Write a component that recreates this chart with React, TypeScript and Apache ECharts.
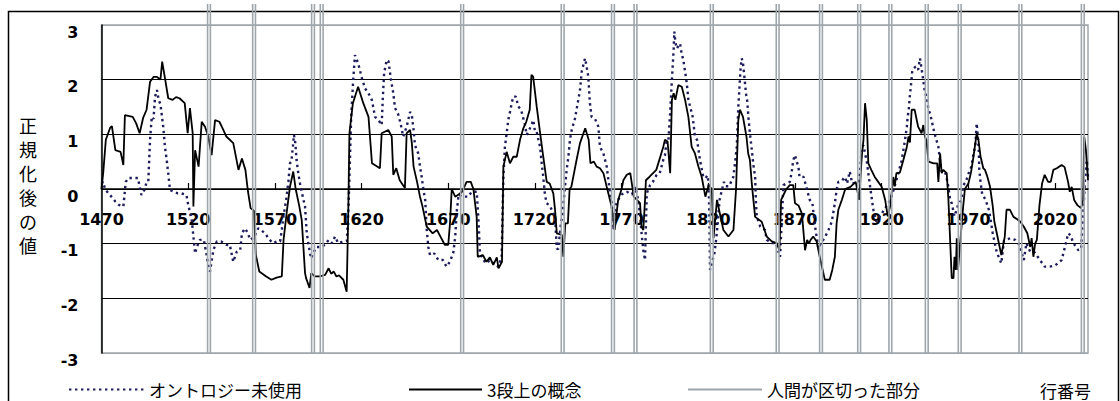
import React, { useEffect, useRef } from "react";
import * as echarts from "echarts";

// ---- axes ----
const X_MIN = 1470;
const X_MAX = 2039;
const X_STEP = 50;
const Y_MIN = -3;
const Y_MAX = 3;
const Y_STEP = 1;

// ---- texts ----
const SERIES_NAMES = ["オントロジー未使用", "3段上の概念", "人間が区切った部分"];
const X_AXIS_TITLE = "行番号";
const Y_AXIS_TITLE = "正規化後の値";

// ---- rows where a human placed a boundary ----
const separatorRows = [
  1532, 1558, 1592, 1597, 1678, 1736, 1765, 1778, 1822, 1860, 1885, 1907, 1925, 1946, 1965, 2000, 2036,
];

// ---- dotted series: オントロジー未使用 [row, value] ----
const ontologyUnused: [number, number][] = [
  [1470, 0.1], [1471, 0.13], [1472, 0.0], [1474, -0.08], [1476, -0.15], [1478, -0.23], [1480, -0.29],
  [1482.6, -0.32], [1484, 0.13], [1485.5, 0.2], [1488, 0.2], [1491, 0.2], [1493, -0.11], [1495, 0.0],
  [1496, 0.13], [1497, 0.14], [1498, 0.9], [1499, 1.32], [1500, 1.28], [1500.9, 1.69], [1502, 1.81],
  [1503, 1.63], [1504, 1.55], [1505.6, 1.14], [1506.6, 0.77], [1507.6, 0.53], [1508.5, 0.29], [1509.5, -0.02],
  [1512, -0.05], [1514, -0.08], [1516, -0.08], [1519, -0.11], [1520, -0.29], [1522, -0.54], [1523, -0.87],
  [1524, -1.18], [1525, -1.06], [1526.8, -0.93], [1529, -0.93], [1530.5, -1.18], [1531.6, -1.42],
  [1532.6, -1.51], [1533.5, -1.33], [1534.5, -1.12], [1536.5, -0.96], [1539, -0.96], [1542, -1.02],
  [1544, -1.02], [1546, -1.33], [1548, -1.15], [1550, -1.12], [1551, -0.81], [1552.8, -0.72], [1554.5, -0.81],
  [1555.7, -0.93], [1558, -0.88], [1560.4, -0.72], [1562, -0.75], [1564.3, -0.81], [1567, -0.93], [1569, -0.99],
  [1571, -0.96], [1573, -0.96], [1574, -0.75], [1574.9, -0.51], [1576.5, -0.2], [1577.8, 0.13], [1578.7, 0.47],
  [1579.5, 0.5], [1580.6, 0.84], [1581, 0.99], [1581.8, 0.84], [1582.5, 0.53], [1583.5, 0.29], [1584.5, 0.1],
  [1585.5, -0.05], [1586.5, -0.2], [1587.4, -0.32], [1588.4, -0.81], [1590.3, -1.18], [1591, -1.27],
  [1592, -1.18], [1594, -1.06], [1596.5, -1.06], [1599, -1.02], [1601, -0.93], [1603, -0.99], [1604.7, -0.87],
  [1606.5, -0.99], [1609.5, -0.96], [1611.5, -0.95], [1612.5, -0.3], [1613, 0.22], [1614, 1.32], [1615.2, 2.0],
  [1616.2, 2.45], [1617, 2.38], [1618, 2.3], [1619, 2.18], [1620, 2.05], [1622, 1.84], [1624, 1.75],
  [1625.9, 1.63], [1627.8, 1.32], [1630, 1.25], [1631.6, 1.17], [1632.2, 1.63], [1633, 2.12], [1634.5, 2.36],
  [1635.5, 2.34], [1637, 1.99], [1638.3, 1.75], [1639.3, 1.48], [1641, 1.38], [1642.5, 1.2], [1644, 0.96],
  [1646, 1.14], [1648, 1.41], [1649, 1.35], [1650, 1.08], [1650.8, 0.8], [1652.7, 0.65], [1653.7, 0.41],
  [1654.7, 0.22], [1655.6, 0.0], [1656.7, -0.2], [1657.6, -0.75], [1658.5, -1.06], [1659.5, -1.21],
  [1662, -1.18], [1664.3, -1.3], [1667, -1.3], [1669, -1.42], [1671, -1.33], [1673, -1.15], [1674, -0.87],
  [1675, -0.38], [1676, -0.1], [1678, -0.14], [1681.6, -0.14], [1683.5, -0.05], [1686.4, -0.05], [1687.5, -0.6],
  [1688.3, -1.18], [1691, -1.33], [1692, -1.36], [1694, -1.3], [1697, -1.39], [1699, -1.42], [1700.8, -1.24],
  [1701.8, 0.22], [1702.7, 0.77], [1703.7, 1.02], [1704.6, 1.26], [1705.6, 1.41], [1706.6, 1.57],
  [1707.5, 1.69], [1709, 1.69], [1710.4, 1.51], [1712, 1.45], [1714.3, 1.17], [1715.2, 0.99], [1717, 1.1],
  [1719.1, 1.26], [1720, 1.05], [1721, 1.05], [1722, 0.9], [1723, 0.77], [1723.9, 0.47], [1724.8, 0.22],
  [1725.7, -0.08], [1726.7, -0.26], [1728.5, -0.3], [1731.6, -0.51], [1732.6, -1.09], [1733.5, -1.1],
  [1735, -0.63], [1736, -0.45], [1737.3, 0.04], [1738.3, 0.35], [1739.3, 0.59], [1740.2, 0.9], [1741.2, 1.08],
  [1743.1, 1.29], [1744, 1.45], [1745, 1.63], [1746, 1.81], [1747, 2.15], [1748.9, 2.39], [1749.8, 2.24],
  [1750.8, 2.05], [1751.7, 1.57], [1752.7, 1.32], [1754.7, 1.28], [1756.6, 1.14], [1757.5, 0.77],
  [1759.5, 0.65], [1761.4, 0.41], [1762.4, 0.16], [1763.3, -0.05], [1764.3, -0.26], [1765.2, -0.75],
  [1766.5, -0.3], [1768, -0.2], [1770, -0.1], [1773, -0.05], [1776, -0.1], [1777.7, 0.04], [1779, -0.1],
  [1780.6, -0.45], [1781.5, -0.81], [1782.5, -1.12], [1783.5, -1.3], [1784.5, -0.08], [1786.4, 0.07],
  [1788, 0.13], [1790.2, 0.26], [1792, 0.29], [1794, 0.53], [1795, 0.62], [1796, 0.9], [1797, 0.9],
  [1798, 1.4], [1799, 1.99], [1800, 2.54], [1800.4, 2.88], [1801, 2.69], [1801.8, 2.57], [1803.7, 2.66],
  [1804.6, 2.48], [1805.6, 2.36], [1806.6, 2.15], [1807.6, 1.93], [1808.5, 1.63], [1809.5, 1.51], [1811, 1.32],
  [1812.3, 0.96], [1813.5, 0.9], [1815.2, 0.53], [1816, 0.4], [1817.1, 0.22], [1818.5, 0.2], [1819.5, 0.25],
  [1820.2, 0.1], [1820.6, -0.5], [1821, -1.48], [1822, -1.36], [1823.5, -1.18], [1824.5, -0.93],
  [1825.5, -0.6], [1826.5, -0.2], [1828, 0.0], [1829, 0.13], [1830, 0.05], [1832, 0.05], [1834.4, 0.22],
  [1835.4, 0.47], [1836.4, 0.77], [1837.3, 1.51], [1838, 1.87], [1838.7, 2.24], [1839.3, 2.39], [1840, 2.3],
  [1841, 1.99], [1841.7, 1.75], [1842.5, 1.6], [1843.1, 1.32], [1844, 1.02], [1845, 0.74], [1846, 0.44],
  [1847, 0.22], [1847.5, -0.26], [1848, -0.51], [1850, -0.69], [1852.7, -0.75], [1853.7, -0.93],
  [1856.6, -0.99], [1859, -0.99], [1861.4, -1.24], [1862.5, -0.5], [1863.3, 0.07], [1865, 0.1], [1867, 0.13],
  [1868, 0.29], [1869, 0.53], [1870, 0.62], [1871, 0.5], [1872, 0.4], [1872.6, 0.22], [1875, 0.22],
  [1876, 0.1], [1877.5, -0.08], [1878.5, -0.2], [1880, -0.25], [1881.6, -0.69], [1883.5, -1.09],
  [1885, -0.99], [1887, -0.9], [1889.3, -0.75], [1891.2, -0.6], [1893, -0.26], [1894, -0.02], [1895, 0.13],
  [1897, 0.15], [1898.8, 0.22], [1900, 0.1], [1901.6, 0.32], [1903, 0.1], [1906.6, 0.13], [1907.5, 0.3],
  [1908.5, 0.77], [1909.5, 0.8], [1910.4, 0.65], [1911.4, 0.5], [1912.3, 0.29], [1913.5, 0.0],
  [1915.2, -0.38], [1917, -0.6], [1919, -0.5], [1921, -0.4], [1923, -0.3], [1925, -0.2], [1927, 0.0],
  [1929.6, 0.29], [1930.5, 0.4], [1931.6, 0.53], [1932.5, 0.71], [1933.5, 0.9], [1934.5, 1.14], [1935, 1.32],
  [1935.6, 1.45], [1936.2, 1.69], [1936.8, 1.87], [1937.2, 2.0], [1937.7, 2.18], [1939.6, 2.24], [1941, 2.18],
  [1942.1, 2.39], [1944, 1.99], [1945, 1.75], [1946, 1.69], [1947, 1.45], [1947.9, 1.38], [1949, 1.23],
  [1949.8, 1.11], [1951, 0.96], [1952.7, 0.77], [1953.5, 0.55], [1954.6, 0.32], [1956.5, 0.32], [1958, 0.13],
  [1959.5, -0.2], [1960.4, -0.26], [1962, -0.5], [1964, -0.3], [1966, -0.2], [1967.1, 0.07], [1968.5, 0.13],
  [1970.2, 0.29], [1971.7, 0.41], [1973, 0.65], [1974, 0.8], [1974.8, 1.2], [1975.5, 0.95], [1976, 0.71],
  [1976.3, 0.35], [1977, 0.13], [1978, -0.1], [1980, -0.2], [1982, -0.4], [1984, -0.8], [1986.3, -1.15],
  [1989, -1.36], [1990.5, -0.95], [1994.1, -0.9], [1997, -0.93], [1999, -1.0], [2002, -1.3], [2003.5, -0.99],
  [2005.7, -1.15], [2008, -1.15], [2010, -1.24], [2012, -1.33], [2014, -1.42], [2017, -1.42], [2020, -1.4],
  [2023.8, -1.3], [2025.7, -1.06], [2027.6, -0.81], [2029, -0.85], [2030.5, -0.99], [2032, -1.05],
  [2033.4, -1.12], [2035, -1.1], [2036.5, -0.3], [2037.5, 0.3], [2038.3, 0.53], [2039, 0.22],
];

// ---- solid series: 3段上の概念 [row, value] ----
const threeLevelConcept: [number, number][] = [
  [1470, 0.0], [1471, 0.3], [1472.5, 0.9], [1475, 1.12], [1476, 1.15], [1478, 0.71], [1481, 0.68],
  [1482.6, 0.44], [1483.5, 1.35], [1488, 1.32], [1490, 1.2], [1492, 1.02], [1494, 1.3], [1496, 1.45],
  [1498, 1.96], [1500, 2.05], [1502, 2.05], [1504, 2.0], [1505, 2.33], [1506.6, 2.03], [1508.5, 1.66],
  [1511, 1.63], [1513, 1.68], [1515, 1.66], [1518, 1.57], [1519.7, 1.02], [1521, 1.48], [1522.6, 1.02],
  [1523, -0.32], [1524, 0.71], [1526, 0.41], [1527.8, 1.23], [1529.7, 1.14], [1531.6, 0.96], [1533.5, 0.62],
  [1535.5, 1.26], [1538, 1.23], [1540, 1.1], [1542, 0.96], [1546, 0.84], [1549, 0.35], [1551, 0.56],
  [1553, 0.35], [1554.5, -0.05], [1556, -0.35], [1558, -0.4], [1559, -1.2], [1561, -1.51], [1565, -1.6],
  [1568, -1.66], [1571, -1.62], [1574, -1.6], [1575, -0.93], [1577, -0.38], [1578.7, 0.04], [1580.6, 0.32],
  [1582, 0.0], [1584, -0.3], [1585.5, -0.57], [1587.4, -1.54], [1588, -1.63], [1590, -1.81], [1591, -1.54],
  [1593, -1.6], [1596, -1.6], [1599, -1.57], [1601, -1.45], [1602.5, -1.55], [1604, -1.51], [1605.5, -1.6],
  [1607, -1.58], [1609.5, -1.66], [1611.4, -1.88], [1612.3, -0.5], [1613, 1.02], [1615, 1.57], [1618, 1.87],
  [1621, 1.57], [1624, 1.32], [1626, 0.47], [1630.6, 0.38], [1631.6, 1.02], [1635.4, 1.08], [1637.4, 0.96],
  [1638.3, 0.26], [1640, 0.38], [1642, 0.16], [1645, 0.02], [1646, 1.02], [1648, 1.08], [1649, 0.84],
  [1650, 0.41], [1652, 0.13], [1653.7, -0.14], [1655, -0.3], [1657.6, -0.69], [1661, -0.81], [1663.5, -0.75],
  [1665.5, -0.87], [1668, -1.02], [1670, -1.02], [1671, -0.63], [1672, 0.0], [1674, -0.14], [1676, -0.1],
  [1678, -0.05], [1680.6, 0.13], [1683, 0.13], [1684.5, 0.0], [1686.4, -0.51], [1687, -1.24], [1690, -1.21],
  [1692, -1.33], [1694, -1.25], [1696, -1.39], [1698, -1.25], [1699, -1.45], [1701, -1.33], [1701.8, 0.41],
  [1703.7, 0.68], [1705.6, 0.47], [1707.5, 0.59], [1709.5, 0.59], [1711.4, 0.9], [1713.3, 1.11], [1715, 1.23],
  [1717, 1.45], [1718, 2.09], [1719, 2.05], [1721, 1.51], [1723, 1.02], [1724.8, 0.59], [1726.8, 0.13],
  [1728.5, 0.1], [1730.6, -0.08], [1731.6, -0.38], [1732.6, -0.81], [1735.5, -0.84], [1736.4, -1.24],
  [1737.5, -0.63], [1739, -0.63], [1740, 0.0], [1741, 0.04], [1744, 0.53], [1746, 0.84], [1749, 1.11],
  [1751, 0.9], [1752, 0.47], [1754, 0.5], [1755.6, 0.41], [1757.5, 0.38], [1759.5, 0.29], [1761.4, 0.04],
  [1763.3, -0.2], [1764.2, -0.32], [1766, -0.75], [1768, -0.2], [1770, 0.0], [1771, 0.16], [1773, 0.26],
  [1775, 0.29], [1777, -0.14], [1780.6, -0.26], [1781.5, -0.69], [1782.5, -0.75], [1783.5, -0.2], [1784, 0.16],
  [1786, 0.22], [1790, 0.35], [1794, 0.77], [1795, 0.9], [1796.5, 0.87], [1798, 0.29], [1799, 1.63],
  [1800, 1.75], [1801, 1.63], [1802.7, 1.9], [1804.7, 1.87], [1806.6, 1.63], [1808.5, 1.32], [1810.4, 0.77],
  [1812.3, 0.65], [1814.3, 0.41], [1816.2, 0.22], [1818.3, -0.14], [1820.2, 0.07], [1822, 0.0], [1823, -0.9],
  [1825, -0.2], [1828.7, -0.75], [1831.6, -0.87], [1834.5, -0.75], [1836, 0.0], [1837.3, 1.26], [1838.3, 1.45],
  [1840, 1.32], [1842, 0.96], [1843, 0.65], [1844, 0.53], [1845, 0.13], [1846, -0.2], [1847, -0.51],
  [1850.8, -0.6], [1853.7, -0.87], [1856.6, -0.96], [1859.5, -0.99], [1861, -1.12], [1862, -0.2], [1865, 0.0],
  [1867, 0.07], [1869, 0.07], [1870, -0.26], [1872, -0.3], [1874, -0.45], [1875.8, -1.12], [1877, -0.93],
  [1878, -1.0], [1879, -0.93], [1880.5, -0.87], [1882.5, -0.96], [1884, -1.2], [1887.2, -1.66], [1890, -1.66],
  [1891.5, -1.48], [1893, -1.24], [1894, -0.63], [1895, -0.38], [1897, -0.2], [1899, 0.0], [1902, 0.04],
  [1905, 0.13], [1907, -0.2], [1908.5, 0.59], [1909.5, 0.9], [1910.4, 1.57], [1911.4, 1.26], [1912.3, 0.47],
  [1914, 0.35], [1916, 0.22], [1918, 0.13], [1920, 0.04], [1922, -0.2], [1923.5, -0.5], [1925, -0.3],
  [1926.7, 0.22], [1927.5, 0.05], [1928.5, 0.29], [1930.5, 0.3], [1932.5, 0.53], [1934.5, 0.77], [1935.5, 0.96],
  [1936.3, 0.85], [1937.3, 1.45], [1939, 1.45], [1941, 1.14], [1943, 1.02], [1944, 1.17], [1945, 0.95],
  [1945.8, 0.9], [1947, 0.5], [1950, 0.47], [1952, 0.47], [1952.7, 0.13], [1953.7, 0.65], [1954.6, 0.29],
  [1955.5, 0.35], [1957.5, 0.29], [1958.5, -0.2], [1960.4, -1.63], [1961.4, -1.63], [1962, -1.24],
  [1962.8, -1.48], [1963.3, -0.9], [1964, -1.48], [1967, -0.32], [1968, 0.0], [1970, 0.1], [1971.5, 0.3],
  [1973, 0.6], [1974.8, 1.02], [1975.8, 0.9], [1977, 0.6], [1978.6, 0.38], [1979.6, 0.35], [1981, 0.22],
  [1982.5, 0.04], [1984, -0.3], [1985, -0.6], [1987, -0.9], [1989, -1.21], [1991, -0.87], [1992, -0.38],
  [1994, -0.38], [1996, -0.51], [1998, -0.55], [2000, -0.6], [2002, -0.69], [2004, -0.81], [2005.7, -1.06],
  [2006.5, -0.9], [2007.5, -1.24], [2008.5, -1.0], [2009.5, -0.93], [2011, -0.3], [2012.5, 0.1], [2014, 0.26],
  [2016, 0.13], [2017.5, 0.13], [2019, 0.35], [2021, 0.38], [2023.8, 0.44], [2025.5, 0.4], [2027.5, 0.13],
  [2028.5, -0.05], [2029.6, 0.04], [2031, -0.2], [2033, -0.3], [2035, -0.35], [2036.2, -0.2], [2036.8, 0.96],
  [2037.8, 0.71], [2039, 0.16],
];

const GRAY = "#9ea6ac";
const NAVY = "#1d1d5c";
const CJK = "'Noto Sans CJK JP', sans-serif";
const NUM_FONT = "'DejaVu Sans', sans-serif";

export default function App() {
  const ref = useRef<HTMLDivElement>(null);

  useEffect(() => {
    if (!ref.current) return;
    const chart = echarts.init(ref.current, undefined, { renderer: "svg" });

    const legendText = { fontFamily: CJK, fontSize: 17, color: "#000" };
    const hiddenSymbol = { color: "rgba(0,0,0,0)", borderColor: "rgba(0,0,0,0)", borderWidth: 0 };

    const gridTop = 25;
    const gridBottom = 48;
    const plotHeight = 401 - gridTop - gridBottom;
    // x axis crosses the y axis at value 0
    const zeroOffset = -plotHeight * ((0 - Y_MIN) / (Y_MAX - Y_MIN));

    const option: any = {
      animation: false,
      backgroundColor: "#fff",
      grid: {
        left: 101.5,
        right: 32,
        top: gridTop,
        bottom: gridBottom,
        show: true,
        borderColor: GRAY,
        borderWidth: 1.5,
        backgroundColor: "transparent",
      },
      xAxis: {
        type: "value",
        min: X_MIN,
        max: X_MAX,
        interval: X_STEP,
        offset: zeroOffset,
        axisLine: { onZero: false, lineStyle: { color: "#000", width: 1.5 } },
        axisTick: { show: true, inside: true, length: 6, lineStyle: { color: "#000", width: 1.2 } },
        axisLabel: {
          showMaxLabel: false,
          margin: 22,
          color: "#000",
          fontFamily: NUM_FONT,
          fontWeight: "bold",
          fontSize: 16,
          formatter: (v: number) => ((v - X_MIN) % X_STEP === 0 ? String(v) : ""),
        },
        splitLine: { show: false },
      },
      yAxis: {
        type: "value",
        min: Y_MIN,
        max: Y_MAX,
        interval: Y_STEP,
        axisLine: { show: true, onZero: false, lineStyle: { color: "#000", width: 1.5 } },
        axisTick: { show: false },
        axisLabel: {
          margin: 23,
          color: "#000",
          fontFamily: NUM_FONT,
          fontWeight: "bold",
          fontSize: 16,
          verticalAlign: "top",
          lineHeight: 14,
        },
        splitLine: {
          show: true,
          lineStyle: { color: [GRAY, "#000", "#000", "#000", "#000", "#000", GRAY], width: 1.2 },
        },
      },
      legend: [
        {
          data: [SERIES_NAMES[0]],
          left: 68,
          top: 381,
          padding: 0,
          itemWidth: 75,
          itemHeight: 16,
          itemStyle: hiddenSymbol,
          textStyle: legendText,
        },
        {
          data: [SERIES_NAMES[1]],
          left: 408,
          top: 381,
          padding: 0,
          itemWidth: 73,
          itemHeight: 16,
          itemStyle: hiddenSymbol,
          textStyle: legendText,
        },
        {
          data: [{ name: SERIES_NAMES[2], icon: "path://M0 0H74V2H0Z" }],
          left: 688,
          top: 381,
          padding: 0,
          itemWidth: 74,
          itemHeight: 16,
          textStyle: legendText,
        },
      ],
      graphic: [
        {
          type: "rect",
          silent: true,
          z: -10,
          shape: { x: 8.5, y: 11.5, width: 1110, height: 420 },
          style: { fill: "none", stroke: "#000", lineWidth: 1.5 },
        },
        {
          type: "text",
          silent: true,
          x: 19,
          y: 113,
          style: {
            text: Y_AXIS_TITLE,
            width: 24,
            overflow: "break",
            lineHeight: 24,
            fontSize: 18,
            fontFamily: CJK,
            fill: "#000",
            verticalAlign: "top",
          },
        },
        {
          type: "text",
          silent: true,
          x: 1040,
          y: 390,
          style: {
            text: X_AXIS_TITLE,
            fontSize: 17,
            fontFamily: CJK,
            fill: "#000",
            verticalAlign: "middle",
          },
        },
      ],
      series: [
        {
          name: SERIES_NAMES[0],
          type: "line",
          data: ontologyUnused,
          symbol: "none",
          z: 3,
          itemStyle: { color: NAVY },
          lineStyle: { color: NAVY, width: 2.4, type: [2.4, 3.6] },
        },
        {
          name: SERIES_NAMES[1],
          type: "line",
          data: threeLevelConcept,
          symbol: "none",
          z: 4,
          itemStyle: { color: "#000" },
          lineStyle: { color: "#000", width: 1.8 },
        },
        {
          name: SERIES_NAMES[2],
          type: "custom",
          z: 6,
          data: separatorRows.map((r) => [r, Y_MIN]),
          itemStyle: { color: GRAY },
          encode: { x: 0, y: 1 },
          renderItem: (params: any, api: any) => {
            const p = api.coord([api.value(0), api.value(1)]);
            const x = p[0];
            const yBottom = p[1];
            const yTop = 4;
            const st = { stroke: GRAY, lineWidth: 1.6 };
            return {
              type: "group",
              children: [
                { type: "line", shape: { x1: x - 1.4, y1: yBottom, x2: x - 1.4, y2: yTop }, style: st },
                { type: "line", shape: { x1: x + 1.4, y1: yBottom, x2: x + 1.4, y2: yTop }, style: st },
              ],
            };
          },
        },
      ],
    };

    chart.setOption(option);
    return () => chart.dispose();
  }, []);

  return (
    <div
      ref={ref}
      style={{ position: "fixed", left: 0, top: 0, width: 1120, height: 401 }}
    />
  );
}
